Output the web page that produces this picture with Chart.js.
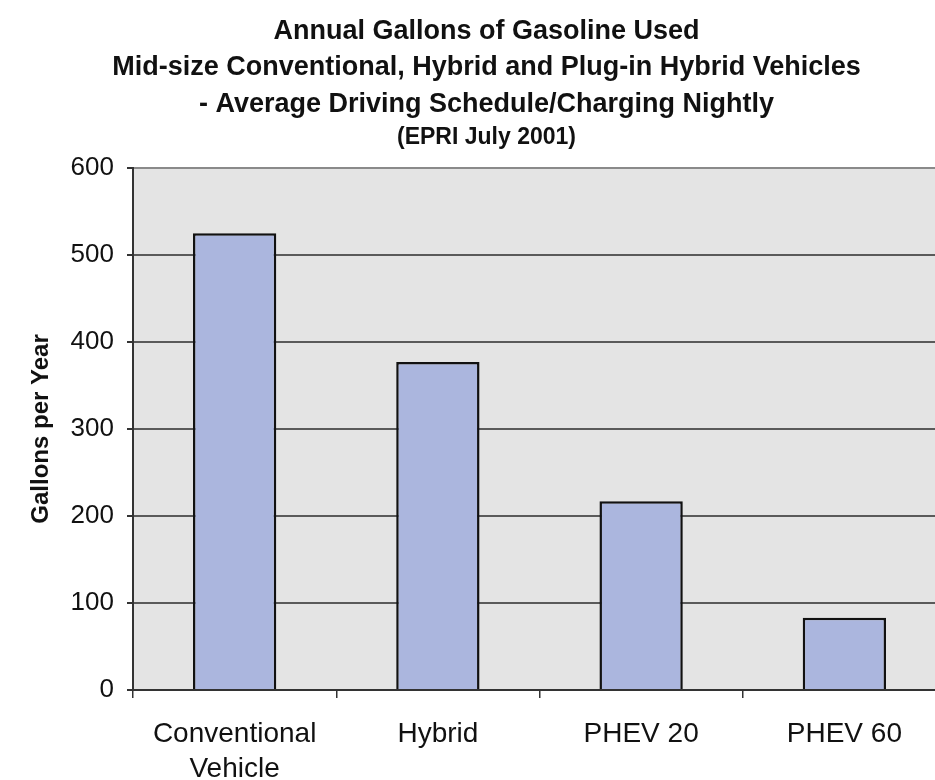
<!DOCTYPE html>
<html>
<head>
<meta charset="utf-8">
<script src="https://cdn.jsdelivr.net/npm/chart.js@4"></script>
<style>
  html, body { margin: 0; padding: 0; background: #fff; overflow: hidden; }
  #wrap { width: 950px; height: 780px; }
</style>
</head>
<body>
<div id="wrap"><canvas id="myChart" width="950" height="780"></canvas></div>
<script>
const categories = [['Conventional', 'Vehicle'], 'Hybrid', 'PHEV 20', 'PHEV 60'];
const gallons = [525, 377, 217, 83];
const yTicks = [0, 100, 200, 300, 400, 500, 600];

const titleLines = [
    'Annual Gallons of Gasoline Used',
    'Mid-size Conventional, Hybrid and Plug-in Hybrid Vehicles',
    '- Average Driving Schedule/Charging Nightly'
];
const subTitle = '(EPRI July 2001)';

// grey plot background
const plotBg = {
    id: 'plotBg',
    beforeDraw(chart) {
        const a = chart.chartArea;
        const c = chart.ctx;
        c.save();
        c.fillStyle = '#e4e4e4';
        c.fillRect(a.left, a.top, a.right - a.left, a.bottom - a.top);
        c.restore();
    }
};

window.addEventListener("load", () => {
    const ctx = document.getElementById('myChart');
    Chart.defaults.font.family = '"Liberation Sans", Arial, sans-serif';
    Chart.defaults.color = '#111';
    new Chart(ctx, {
        type: 'bar',
        data: {
            labels: categories,
            datasets: [{
                label: 'Gallons per Year',
                data: gallons,
                backgroundColor: '#abb6de',
                borderColor: '#111',
                borderWidth: 2.5,
                categoryPercentage: 1,
                barPercentage: 0.41
            }]
        },
        options: {
            responsive: false,
            animation: false,
            layout: { padding: { left: 27, right: 4, top: 0, bottom: 0 } },
            plugins: {
                legend: { display: false },
                tooltip: { enabled: false },
                title: {
                    display: true,
                    text: titleLines,
                    font: { size: 27, weight: 'bold', lineHeight: 1.35 },
                    color: '#111',
                    padding: { top: 13, bottom: 2 }
                },
                subtitle: {
                    display: true,
                    text: subTitle,
                    font: { size: 23, weight: 'bold', lineHeight: 1.2 },
                    color: '#111',
                    padding: { top: 0, bottom: 16 }
                }
            },
            scales: {
                x: {
                    afterFit(scale) { scale.height = 90; },
                    grid: {
                        offset: true,
                        drawOnChartArea: false,
                        drawTicks: true,
                        tickLength: 8,
                        tickColor: '#333',
                        lineWidth: 1.5
                    },
                    border: { color: '#333', width: 2 },
                    ticks: {
                        font: { size: 28, lineHeight: 1.25 },
                        color: '#111',
                        padding: 19,
                        maxRotation: 0
                    }
                },
                y: {
                    min: 0,
                    max: 600,
                    afterFit(scale) { scale.width = 106; },
                    afterBuildTicks(scale) {
                        scale.ticks = yTicks.map(v => ({ value: v }));
                    },
                    grid: {
                        color: (c) => c.tick && c.tick.value === 600 ? '#8a8a8a' : '#5a5a5a',
                        lineWidth: 2,
                        tickLength: 6,
                        tickColor: '#333'
                    },
                    border: { color: '#333', width: 2 },
                    ticks: {
                        font: { size: 26 },
                        color: '#111',
                        padding: 13
                    },
                    title: {
                        display: true,
                        text: 'Gallons per Year',
                        font: { size: 24, weight: 'bold' },
                        color: '#111',
                        padding: { top: 0, bottom: 0 }
                    }
                }
            }
        },
        plugins: [plotBg]
    });
});
</script>
</body>
</html>
